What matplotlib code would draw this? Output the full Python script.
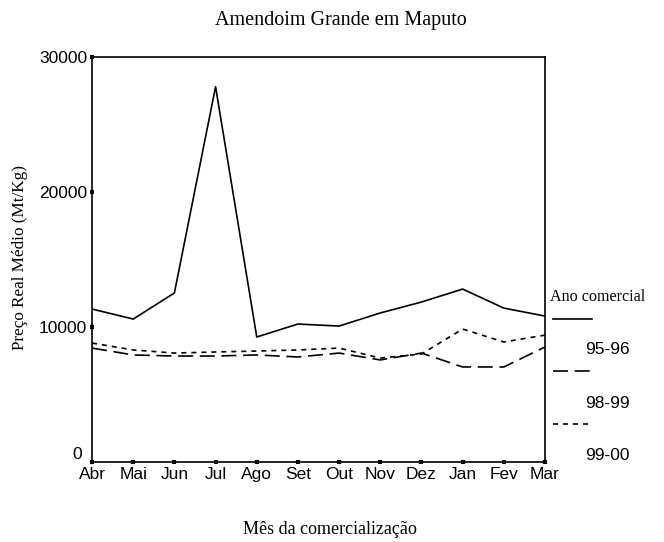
import matplotlib
matplotlib.use("Agg")
import matplotlib.pyplot as plt
from matplotlib.lines import Line2D
from matplotlib.transforms import ScaledTranslation

months = ["Abr", "Mai", "Jun", "Jul", "Ago", "Set", "Out", "Nov", "Dez", "Jan", "Fev", "Mar"]
s9596 = [11330, 10590, 12520, 27800, 9260, 10220, 10070, 11040, 11850, 12810, 11400, 10810]
s9899 = [8440, 7930, 7850, 7850, 7930, 7780, 8070, 7560, 8070, 7040, 7040, 8520]
s9900 = [8810, 8300, 8070, 8150, 8220, 8300, 8440, 7700, 8000, 9850, 8890, 9400]
series_labels = ["95-96", "98-99", "99-00"]
yticks = [0, 10000, 20000, 30000]

serif = "Liberation Serif"
sans = "Liberation Sans"

fig = plt.figure(figsize=(6.64, 5.42), dpi=100)
ax = fig.add_axes([0.1386, 0.1476, 0.8208 - 0.1386, 0.8948 - 0.1476])

x = range(len(months))
styles = [dict(linestyle="-"), dict(dashes=(9, 4)), dict(dashes=(3, 3))]
for vals, st in zip([s9596, s9899, s9900], styles):
    ax.plot(x, vals, color="black", lw=1.2, **st)

ax.set_xlim(0, len(months) - 1)
ax.set_ylim(0, 30000)
ax.set_xticks(list(x))
ax.set_xticklabels(months, fontfamily=sans, fontsize=12.5)
ax.set_yticks(yticks)
ax.set_yticklabels([str(v) for v in yticks], fontfamily=sans, fontsize=12.5)
ax.tick_params(direction="inout", length=3, width=3, pad=2)
for sp in ax.spines.values():
    sp.set_linewidth(1.2)

# the "0" label sits a little above and left of its tick
zero = ax.get_yticklabels()[0]
zero.set_transform(zero.get_transform() + ScaledTranslation(-5 / 100, 9 / 100, fig.dpi_scale_trans))

fig.text(341 / 664, 1 - 20 / 542, "Amendoim Grande em Maputo", ha="center", va="center",
         fontfamily=serif, fontsize=14.5)
fig.text(330 / 664, 1 - 530 / 542, "Mês da comercialização", ha="center", va="center",
         fontfamily=serif, fontsize=13)
fig.text(20 / 664, 1 - 257 / 542, "Preço Real Médio (Mt/Kg)", ha="center", va="center",
         rotation=90, fontfamily=serif, fontsize=12.3)

# legend drawn by hand
fig.text(550 / 664, 1 - 297 / 542, "Ano comercial", ha="left", va="center",
         fontfamily=serif, fontsize=11.6)
line_y = [319, 371, 424]
label_y = [350, 403, 455]
for st, ly, ty, lab in zip(styles, line_y, label_y, series_labels):
    fig.add_artist(Line2D([553 / 664, 592 / 664], [1 - ly / 542, 1 - ly / 542],
                          color="black", lw=1.2, **st))
    fig.text(585 / 664, 1 - ty / 542, lab, ha="left", va="center",
             fontfamily=sans, fontsize=12.5)

fig.savefig("out.png", dpi=100)
